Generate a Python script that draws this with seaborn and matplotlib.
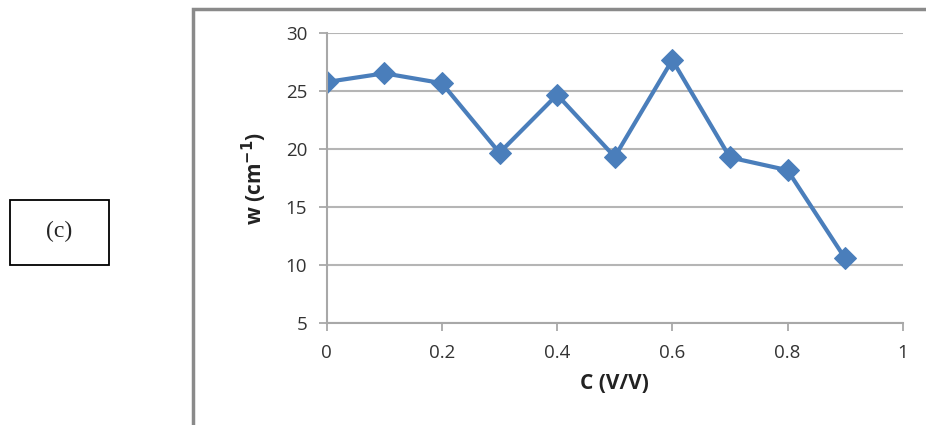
import matplotlib
matplotlib.use("Agg")
import matplotlib.pyplot as plt
from matplotlib.patches import Rectangle
import seaborn as sns
import pandas as pd

c_values = [0.0, 0.1, 0.2, 0.3, 0.4, 0.5, 0.6, 0.7, 0.8, 0.9]
w_values = [25.8, 26.55, 25.7, 19.7, 24.7, 19.35, 27.7, 19.3, 18.2, 10.6]
x_ticks = [0, 0.2, 0.4, 0.6, 0.8, 1]
x_tick_labels = ["0", "0.2", "0.4", "0.6", "0.8", "1"]
y_ticks = [5, 10, 15, 20, 25, 30]
panel_label = "(c)"
x_label = "C (V/V)"
y_label = r"w (cm$^{\mathbf{-1}}$)"

sns.set_theme(style="white")
plt.rcParams['font.family'] = ['Open Sans', 'DejaVu Sans']

df = pd.DataFrame({"C": c_values, "w": w_values})

fig = plt.figure(figsize=(9.26, 4.25), dpi=100)
W, H = 926, 425

# outer chart frame
fig.patches.append(Rectangle((193 / W, -0.05), 1.0, 1 - 9 / H + 0.05,
                             transform=fig.transFigure, fill=False,
                             edgecolor="#8a8a8a", linewidth=2.5, zorder=0))
# panel label box
fig.patches.append(Rectangle((9.5 / W, 1 - 264.5 / H), 99.5 / W, 65 / H,
                             transform=fig.transFigure, fill=False,
                             edgecolor="black", linewidth=1.3))
fig.text(59 / W, 1 - 231 / H, panel_label, ha="center", va="center",
         fontsize=17, family="Liberation Serif")

ax = fig.add_axes([326.7 / W, 1 - 323.3 / H, 576 / W, 290 / H])
sns.lineplot(data=df, x="C", y="w", ax=ax, color="#4a7ebb", linewidth=3,
             marker="D", markersize=11, markeredgecolor="#4a7ebb")

ax.set_xlim(0, 1)
ax.set_ylim(5, 30)
ax.set_xticks(x_ticks)
ax.set_xticklabels(x_tick_labels)
ax.set_yticks(y_ticks)
ax.grid(axis="y", color="#b5b5b5", linewidth=1.5)
ax.set_axisbelow(True)
for s in ["top", "right"]:
    ax.spines[s].set_visible(False)
for s in ["left", "bottom"]:
    ax.spines[s].set_color("#a8a8a8")
    ax.spines[s].set_linewidth(1.5)
ax.tick_params(axis="both", which="major", direction="out", length=6,
               width=1.3, color="#a8a8a8", labelsize=13.5, labelcolor="#333333",
               bottom=True, left=True)
ax.tick_params(axis="x", pad=9)
ax.tick_params(axis="y", pad=8)
ax.set_xlabel(x_label, fontsize=15, fontweight="bold", color="#222222", labelpad=8)
ax.set_ylabel(y_label, fontsize=15, fontweight="bold", color="#222222", labelpad=12)

fig.savefig("out.png", dpi=100, facecolor="white")
